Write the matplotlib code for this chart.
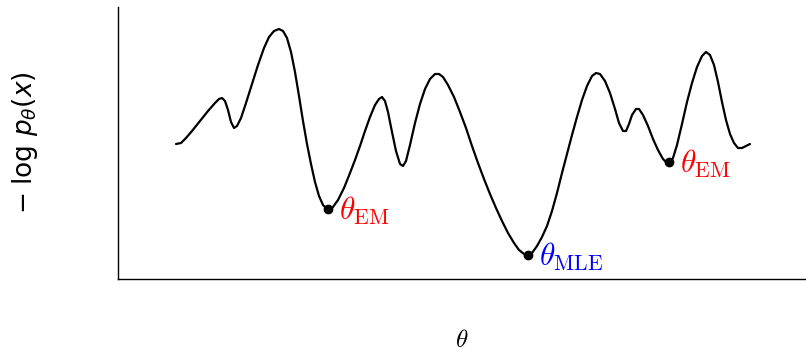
import matplotlib
matplotlib.use("Agg")
import matplotlib.pyplot as plt

# curve: theta (x) and negative log-likelihood (y)
theta = [176, 181, 186, 192, 200, 208, 215, 219, 222, 225, 228, 231, 234, 237, 241,
         246, 252, 258, 264, 269, 274, 279, 283, 287, 291, 295, 299, 303, 307, 311,
         315, 319, 323, 327, 330, 333, 338, 344, 350, 355, 360, 365, 370, 375, 379,
         382, 385, 388, 392, 396, 400, 403, 406, 410, 415, 420, 425, 430, 435, 439,
         443, 448, 454, 460, 466, 472, 478, 484, 490, 496, 502, 508, 514, 519, 524,
         528, 532, 537, 542, 547, 552, 557, 562, 567, 572, 577, 582, 587, 592, 596,
         600, 605, 610, 615, 619, 623, 626, 629, 632, 636, 639, 643, 648, 653, 658,
         663, 667, 670, 673, 677, 682, 687, 692, 697, 702, 706, 710, 714, 718, 722,
         726, 730, 734, 738, 742, 746, 750]
nll = [135, 136, 141, 148, 158, 168, 176, 180, 181, 178, 169, 157, 151, 153, 161,
       176, 195, 214, 231, 242, 248, 250, 248, 241, 227, 207, 183, 158, 135, 115,
       97, 83, 74, 70, 70, 72, 79, 91, 106, 119, 133, 148, 162, 174, 180,
       182, 178, 167, 147, 128, 115, 113, 118, 134, 156, 175, 190, 200, 205, 205,
       202, 194, 182, 167, 151, 133, 116, 100, 85, 71, 58, 46, 36, 29, 25,
       24, 26, 33, 42, 53, 68, 86, 106, 125, 144, 162, 179, 193, 203, 206,
       205, 198, 186, 170, 156, 148, 148, 155, 164, 170, 170, 164, 153, 140, 129,
       120, 116, 116, 121, 134, 155, 177, 196, 212, 223, 227, 224, 214, 197, 177,
       159, 145, 136, 131, 131, 133, 135]

# the three marked minima
min_theta = [328, 528, 669]
min_nll = [70, 24, 117]
min_labels = [r"$\theta_{\mathrm{EM}}$", r"$\theta_{\mathrm{MLE}}$", r"$\theta_{\mathrm{EM}}$"]
min_colors = ["red", "blue", "red"]

plt.rcParams["mathtext.fontset"] = "cm"

fig = plt.figure(figsize=(8.06, 3.49), dpi=100)
ax = fig.add_axes([118 / 806, 70 / 349, 688 / 806, 272 / 349])

ax.plot(theta, nll, color="black", lw=1.6, solid_joinstyle="round",
        solid_capstyle="round")
ax.plot(min_theta, min_nll, "o", color="black", ms=6)

for t, v, lab, c in zip(min_theta, min_nll, min_labels, min_colors):
    ax.annotate(lab, (t, v), xytext=(8, -1), textcoords="offset points",
                color=c, fontsize=22.5, ha="left", va="center")

ax.set_xlim(118, 806)
ax.set_ylim(0, 272)
ax.set_xticks([])
ax.set_yticks([])
for s in ["top", "right"]:
    ax.spines[s].set_visible(False)
for s in ["left", "bottom"]:
    ax.spines[s].set_linewidth(1.0)

ax.set_xlabel(r"$\theta$", fontsize=18, va="top")
ax.xaxis.set_label_coords(0.5, -49 / 272)
ax.set_ylabel(r"$-\;\log\, p_\theta(x)$", fontsize=19, va="center",
              math_fontfamily="dejavusans")
ax.yaxis.set_label_coords(-93 / 688, 0.5)

fig.savefig("out.png", dpi=100)
